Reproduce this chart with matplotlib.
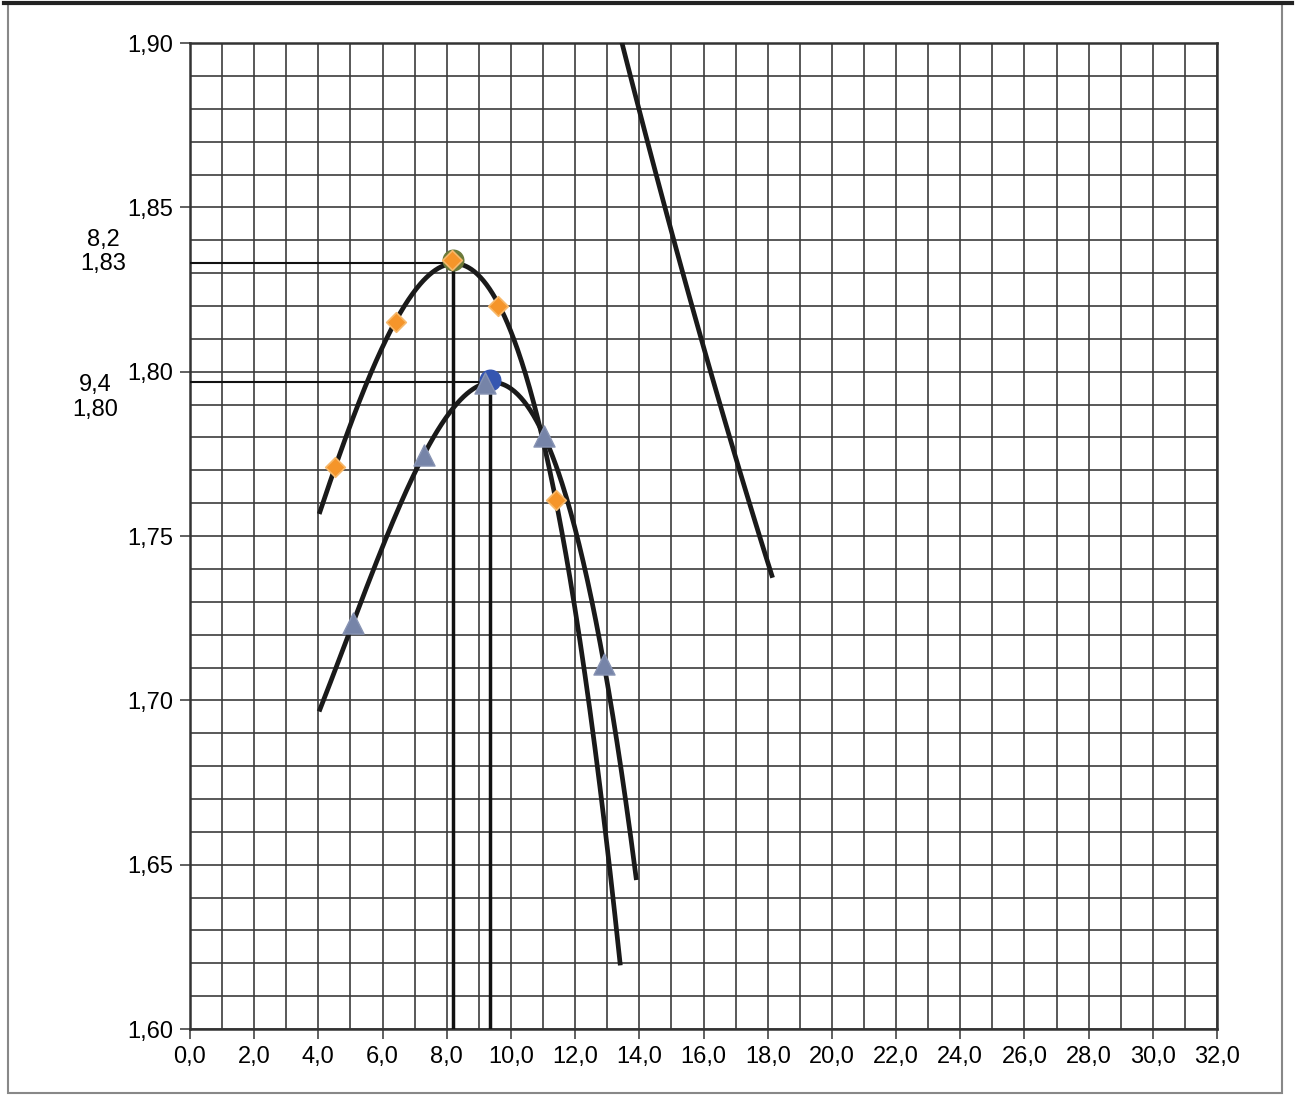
import numpy as np
import matplotlib.pyplot as plt
from matplotlib.patches import Rectangle
from matplotlib.ticker import MultipleLocator, FuncFormatter

plt.rcParams['font.family'] = ['Liberation Sans', 'DejaVu Sans']

# Series A (orange diamonds) and series B (triangles)
xa = [4.52, 6.42, 8.16, 9.60, 11.40]
ya = [1.771, 1.815, 1.834, 1.820, 1.761]
xb = [5.08, 7.29, 9.19, 11.03, 12.90]
yb = [1.7236, 1.7747, 1.7966, 1.7804, 1.711]

# trendline ranges (forecast)
trend_a_range = [4.05, 13.4]
trend_b_range = [4.05, 13.9]

# maxima
peak_x = [8.2, 9.35]
peak_y = [1.833, 1.797]
peak_labels = ["8,2\n1,83", "9,4\n1,80"]

# third line (steep)
xc = [13.46, 15.9, 18.13]
yc = [1.90, 1.811, 1.738]

fig = plt.figure(figsize=(12.95, 11.15), dpi=100)
ax = fig.add_axes([0.1467, 0.0771, 0.7931, 0.8843])

# polynomial trendlines
for xs, ys, rng in [(xa, ya, trend_a_range), (xb, yb, trend_b_range)]:
    coef = np.polyfit(xs, ys, 3)
    xx = np.linspace(rng[0], rng[1], 300)
    ax.plot(xx, np.polyval(coef, xx), color='#1a1a1a', lw=3.4, zorder=4)

coef_c = np.polyfit(xc, yc, 2)
xx = np.linspace(xc[0], xc[-1], 100)
ax.plot(xx, np.polyval(coef_c, xx), color='#1a1a1a', lw=3.4, zorder=4)

# guide lines to maxima
for px, py in zip(peak_x, peak_y):
    ax.plot([0, px], [py, py], color='#111111', lw=1.5, zorder=3)
    ax.plot([px, px], [1.60, py], color='#111111', lw=2.5, zorder=3)

# markers
ax.scatter(peak_x[0], peak_y[0] + 0.001, s=220, color='#6b7a3a', zorder=5)
ax.scatter(peak_x[1], peak_y[1] + 0.0005, s=220, color='#3556b0', zorder=5)
ax.scatter(xa, ya, marker='D', s=100, color='#f5952a', edgecolor='#f7b86a',
           lw=1.2, zorder=6)
ax.scatter(xb, yb, marker='^', s=230, color='#7684a8', edgecolor='#8894b4',
           zorder=6)

# labels of maxima, left of the axis
ax.text(-2.71, peak_y[0] + 0.0034, peak_labels[0], ha='center', va='center',
        fontsize=17, linespacing=1.15)
ax.text(-2.96, peak_y[1] - 0.0048, peak_labels[1], ha='center', va='center',
        fontsize=17, linespacing=1.15)

ax.set_xlim(0, 32)
ax.set_ylim(1.60, 1.90)
ax.xaxis.set_major_locator(MultipleLocator(2))
ax.xaxis.set_minor_locator(MultipleLocator(1))
ax.yaxis.set_major_locator(MultipleLocator(0.05))
ax.yaxis.set_minor_locator(MultipleLocator(0.01))
ax.xaxis.set_major_formatter(FuncFormatter(lambda v, p: f"{v:.1f}".replace('.', ',')))
ax.yaxis.set_major_formatter(FuncFormatter(lambda v, p: f"{v:.2f}".replace('.', ',')))
ax.grid(which='both', color='#3c3c3c', lw=1.2)
ax.set_axisbelow(True)
ax.tick_params(which='major', direction='out', length=7, width=1.2,
               labelsize=17, pad=5, color='#444444')
ax.tick_params(which='minor', length=0)
for s in ax.spines.values():
    s.set_linewidth(1.8)
    s.set_color('#333333')

# outer frame
fig.patches.append(Rectangle((8 / 1295, 0.02), 1274 / 1295, 0.977,
                             transform=fig.transFigure, fill=False,
                             edgecolor='#888888', lw=1.5))
fig.add_artist(plt.Line2D([0.003, 0.998], [0.997, 0.997], transform=fig.transFigure,
                          color='#222222', lw=3))

fig.savefig('out.png', dpi=100)
